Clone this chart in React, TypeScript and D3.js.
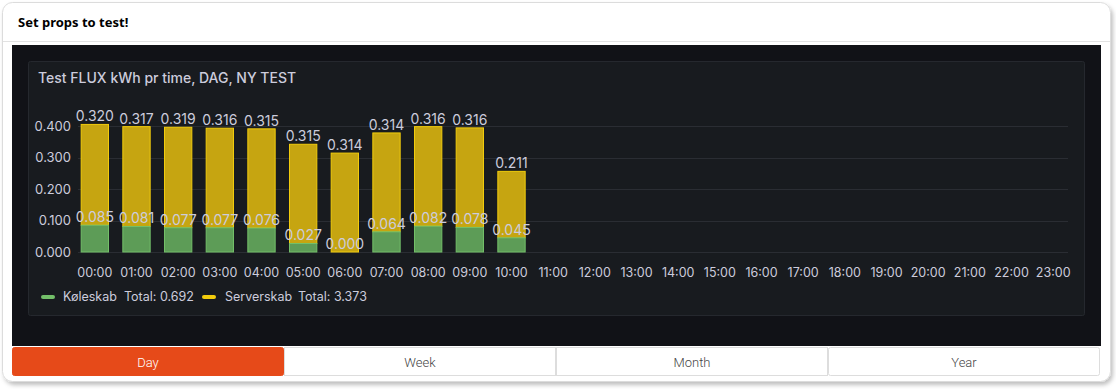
import React from 'react';
import * as d3 from 'd3';

const hours = d3.range(24).map((h) => `${String(h).padStart(2, '0')}:00`);
const koleskab = [0.085, 0.081, 0.077, 0.077, 0.076, 0.027, 0.0, 0.064, 0.082, 0.078, 0.045];
const serverskab = [0.320, 0.317, 0.319, 0.316, 0.315, 0.315, 0.314, 0.314, 0.316, 0.316, 0.211];
const yTicks = [0, 0.1, 0.2, 0.3, 0.4];
const periods = ['Day', 'Week', 'Month', 'Year'];

const W = 1116;
const H = 389;
const font = 'Inter, "Open Sans", sans-serif';
const textCol = '#ccccdc';

export default function App() {
  // scales
  const x = d3.scaleBand<string>().domain(hours).range([74, 1074]).paddingInner(0.32).paddingOuter(0.16);
  const y = d3.scaleLinear().domain([0, 0.4]).range([252, 126]);
  const fmt = d3.format('.3f');

  const btn = d3.scaleBand<string>().domain(periods).range([12, 1100]);

  return (
    <div style={{ position: 'fixed', left: 0, top: 0 }}>
      <svg width={W} height={H} style={{ display: 'block' }}>
        <defs>
          <filter id="shadow" x="-5%" y="-5%" width="110%" height="115%">
            <feDropShadow dx="2" dy="3" stdDeviation="2" floodColor="#000" floodOpacity="0.25" />
          </filter>
        </defs>
        <rect width={W} height={H} fill="#fff" />
        {/* card */}
        <rect x={2.5} y={2.5} width={1108} height={379} rx={10} fill="#fff" stroke="#dcdcdc" filter="url(#shadow)" />
        <text x={18} y={27} fontFamily='"Noto Sans", sans-serif' fontWeight={700} fontSize={13} fill="#000">
          Set props to test!
        </text>
        <line x1={3} x2={1110} y1={41.5} y2={41.5} stroke="#e2e2e2" />

        {/* dark area */}
        <rect x={12} y={45} width={1089} height={301} fill="#111217" />
        <rect x={28.5} y={61.5} width={1056} height={254} rx={2} fill="#181b1f" stroke="#25282e" />
        <text x={38} y={83} fontFamily={font} fontWeight={500} fontSize={14} fill={textCol}>
          Test FLUX kWh pr time, DAG, NY TEST
        </text>

        {/* grid + y axis */}
        {yTicks.map((t) => (
          <g key={t}>
            <line x1={78} x2={1068} y1={Math.round(y(t)) + 0.5} y2={Math.round(y(t)) + 0.5} stroke="#2a2d33" />
            <text x={71} y={y(t)} dy="0.35em" textAnchor="end" fontFamily={font} fontSize={13} fill={textCol}>
              {fmt(t)}
            </text>
          </g>
        ))}

        {/* x axis labels */}
        {hours.map((h) => (
          <text key={h} x={x(h)! + x.bandwidth() / 2} y={277} textAnchor="middle" fontFamily={font} fontSize={12.5} fill={textCol}>
            {h}
          </text>
        ))}

        {/* stacked bars */}
        {koleskab.map((k, i) => {
          const s = serverskab[i];
          const bx = x(hours[i])!;
          const bw = x.bandwidth();
          const cx = bx + bw / 2;
          return (
            <g key={i}>
              <rect x={bx + 0.5} y={y(k + s)} width={bw - 1} height={y(k) - y(k + s)} fill="#c6a511" stroke="#f2cc0c" />
              <rect x={bx + 0.5} y={y(k)} width={bw - 1} height={Math.max(y(0) - y(k), 0)} fill="#5d9c57" stroke="#73bf69" />
              <text x={cx} y={y(k + s) - 3} textAnchor="middle" fontFamily={font} fontSize={14} fill={textCol}>
                {fmt(s)}
              </text>
              <text x={cx} y={y(k) - 3} textAnchor="middle" fontFamily={font} fontSize={14} fill={textCol}>
                {fmt(k)}
              </text>
            </g>
          );
        })}

        {/* legend */}
        <rect x={41} y={295} width={14} height={4} rx={2} fill="#73bf69" />
        <text x={63} y={297} dy="0.35em" fontFamily={font} fontSize={12.5} fill={textCol}>Køleskab</text>
        <text x={124} y={297} dy="0.35em" fontFamily={font} fontSize={12.5} fill={textCol}>
          {`Total: ${fmt(d3.sum(koleskab))}`}
        </text>
        <rect x={202} y={295} width={14} height={4} rx={2} fill="#f2cc0c" />
        <text x={225} y={297} dy="0.35em" fontFamily={font} fontSize={12.5} fill={textCol}>Serverskab</text>
        <text x={298} y={297} dy="0.35em" fontFamily={font} fontSize={12.5} fill={textCol}>
          {`Total: ${fmt(d3.sum(serverskab))}`}
        </text>

        {/* period buttons */}
        {periods.map((p, i) => (
          <g key={p}>
            <rect
              x={btn(p)! + 0.5}
              y={347.5}
              width={btn.bandwidth() - 1}
              height={28}
              rx={i === 0 || i === 3 ? 2 : 0}
              fill={i === 0 ? '#e64a19' : '#fff'}
              stroke={i === 0 ? '#e64a19' : '#dddddd'}
            />
            <text
              x={btn(p)! + btn.bandwidth() / 2}
              y={362}
              dy="0.35em"
              textAnchor="middle"
              fontFamily='Roboto, sans-serif'
              fontWeight={300}
              fontSize={13}
              fill={i === 0 ? '#fff' : '#444'}
            >
              {p}
            </text>
          </g>
        ))}
      </svg>
    </div>
  );
}
